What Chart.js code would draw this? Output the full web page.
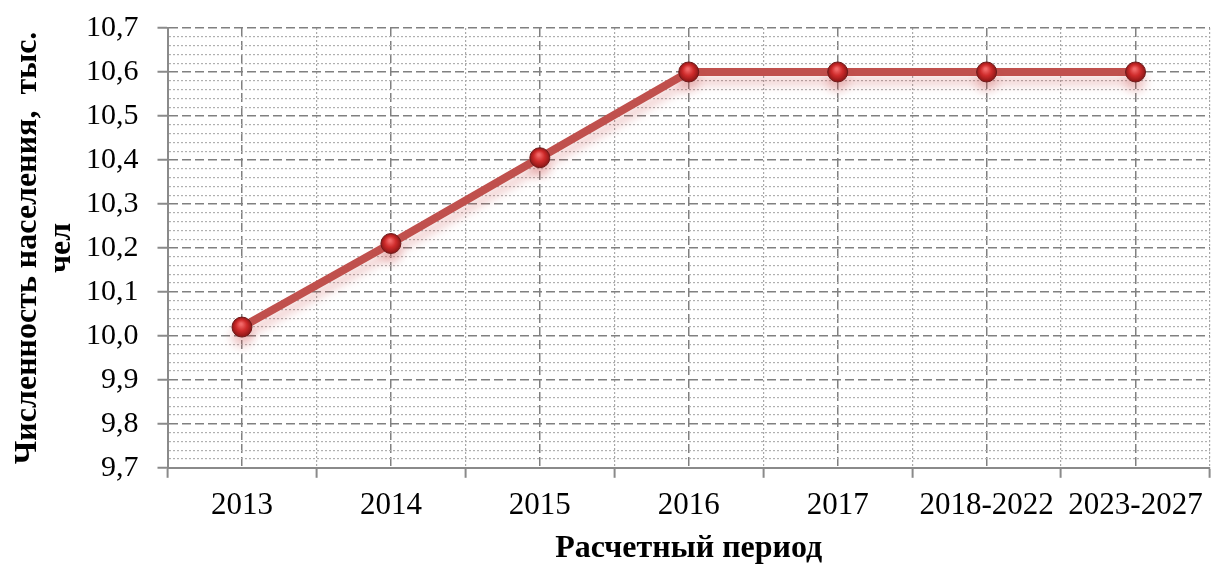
<!DOCTYPE html>
<html>
<head>
<meta charset="utf-8">
<script src="https://cdn.jsdelivr.net/npm/chart.js@4.4.0/dist/chart.umd.min.js"></script>
<style>
html,body{margin:0;padding:0;background:#fff;}
#wrap{width:1221px;height:565px;position:relative;}
</style>
</head>
<body>
<div id="wrap"><canvas id="c"></canvas></div>
<script>
const categories = ['2013','2014','2015','2016','2017','2018-2022','2023-2027'];
const population = [10.02, 10.21, 10.405, 10.6, 10.6, 10.6, 10.6];
const yTitle = ['Численность населения,  тыс.', 'чел'];
const xTitle = 'Расчетный период';
const yMin = 9.7, yMax = 10.7, yMinorStep = 0.02;

const FONT = "'Liberation Serif', 'Times New Roman', serif";
const isMajor = v => Math.round(v * 50) % 5 === 0;

const shadowPlugin = {
  id: 'lineShadow',
  beforeDatasetDraw(chart) {
    const ctx = chart.ctx;
    ctx.save();
    ctx.shadowColor = 'rgba(200,70,70,0.28)';
    ctx.shadowBlur = 10;
    ctx.shadowOffsetY = 9;
  },
  afterDatasetDraw(chart) { chart.ctx.restore(); }
};

function ballFill(context) {
  const chart = context.chart;
  if (context.type !== 'data' || !chart.scales.x || !chart.scales.y) return '#c0392b';
  const x = chart.scales.x.getPixelForValue(context.dataIndex);
  const y = chart.scales.y.getPixelForValue(context.raw);
  if (!isFinite(x) || !isFinite(y)) return '#c0392b';
  const g = chart.ctx.createRadialGradient(x - 1, y - 3, 1, x, y, 11);
  g.addColorStop(0, '#f36a6a');
  g.addColorStop(0.45, '#cf2b2b');
  g.addColorStop(1, '#7d1212');
  return g;
}

new Chart(document.getElementById('c'), {
  type: 'line',
  data: {
    labels: categories,
    datasets: [{
      data: population,
      borderColor: '#c0504d',
      borderWidth: 8,
      tension: 0,
      pointRadius: 10,
      pointHoverRadius: 10,
      pointBackgroundColor: ballFill,
      pointBorderColor: '#6e1a1a',
      pointBorderWidth: 1,
      xAxisID: 'x',
      yAxisID: 'y'
    }]
  },
  options: {
    responsive: true,
    maintainAspectRatio: false,
    animation: false,
    layout: { padding: { left: 0, top: 28, right: 0, bottom: 0 } },
    plugins: { legend: { display: false }, tooltip: { enabled: false } },
    scales: {
      x: {
        type: 'category',
        offset: true,
        grid: { offset: true, color: '#a8a8a8', lineWidth: 1.2, tickLength: 10, tickColor: '#8a8a8a', tickWidth: 2, tickBorderDash: [] },
        border: { display: true, color: '#8a8a8a', width: 2, dash: [2, 2] },
        ticks: { color: '#000', font: { family: FONT, size: 31, lineHeight: 1.2 }, padding: 9, maxRotation: 0, autoSkip: false },
        title: { display: true, text: xTitle, color: '#000', font: { family: FONT, size: 32, weight: 'bold', lineHeight: 1.0 }, padding: { top: 0, bottom: 0 } }
      },
      xc: {
        type: 'category',
        position: 'bottom',
        offset: true,
        grid: { offset: false, color: '#808080', lineWidth: 1.5, drawTicks: false },
        border: { display: false, dash: [9, 4] },
        ticks: { display: false }
      },
      y: {
        min: yMin,
        max: yMax,
        grid: {
          color: c => isMajor(c.tick.value) ? '#808080' : '#b0b0b0',
          lineWidth: c => isMajor(c.tick.value) ? 1.5 : 1.2,
          tickLength: 29,
          tickColor: c => isMajor(c.tick.value) ? '#8a8a8a' : 'rgba(0,0,0,0)',
          tickWidth: 2,
          tickBorderDash: [0, 19, 10, 100]
        },
        border: { display: true, color: '#8a8a8a', width: 2, dash: c => isMajor(c.tick.value) ? [9, 4] : [2, 2] },
        ticks: {
          stepSize: yMinorStep,
          autoSkip: false,
          color: '#000',
          font: { family: FONT, size: 30 },
          padding: 0,
          callback: v => isMajor(v) ? (Math.round(v * 50) / 50).toFixed(1).replace('.', ',') : ''
        },
        title: { display: true, text: yTitle, color: '#000', font: { family: FONT, size: 32, weight: 'bold', lineHeight: 1.0625 }, padding: { top: 11, bottom: 7 } }
      }
    }
  },
  plugins: [shadowPlugin]
});
</script>
</body>
</html>
